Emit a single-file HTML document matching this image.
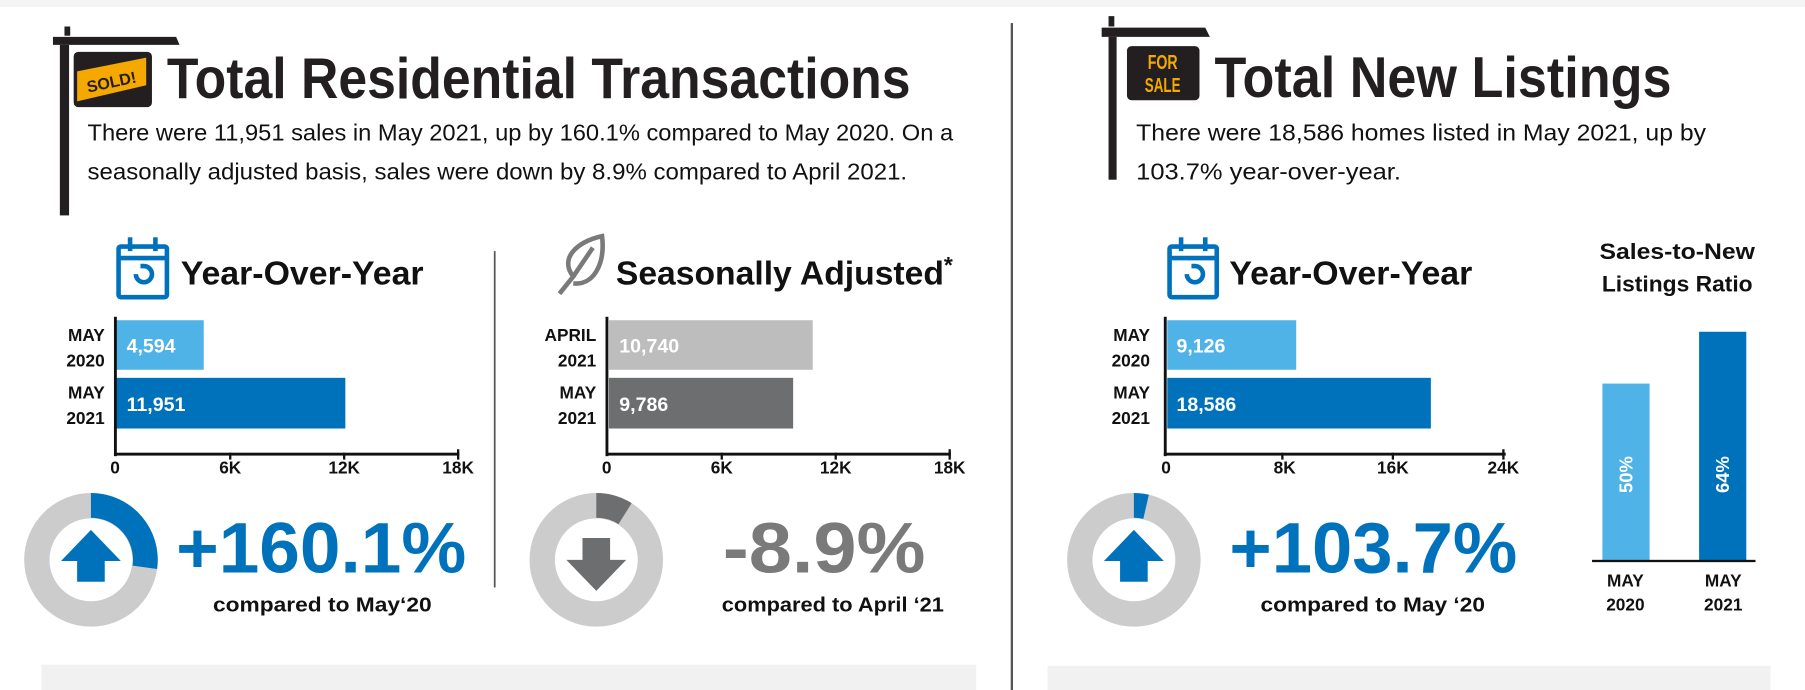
<!DOCTYPE html>
<html><head><meta charset="utf-8"><style>
html,body{margin:0;padding:0;background:#fff;}
svg{display:block;}
text{font-family:"Liberation Sans",sans-serif;}
</style></head><body>
<svg width="1805" height="690" viewBox="0 0 1568 599" preserveAspectRatio="none" xmlns="http://www.w3.org/2000/svg">
<rect x="0" y="0" width="1568" height="6" fill="#f4f4f4"/>
<!-- Left sign post -->
<rect x="56" y="23" width="5" height="8" fill="#231f20"/>
<polygon points="46,32 153,32 156,39 46,39" fill="#231f20"/>
<rect x="52" y="39" width="8" height="148" fill="#231f20"/>
<rect x="64" y="45" width="68" height="48" rx="4" fill="#231f20"/>
<polygon points="67,62 127,50 127,74 67,88" fill="#f5a800"/>
<text x="97" y="76" font-size="14" text-anchor="middle" fill="#231f20" transform="rotate(-12 97 72)" font-weight="bold">SOLD!</text>
<text x="145" y="85" font-size="50" font-weight="bold" fill="#231f20" textLength="646" lengthAdjust="spacingAndGlyphs">Total Residential Transactions</text>
<text x="76" y="122" font-size="20" fill="#111" textLength="752" lengthAdjust="spacingAndGlyphs">There were 11,951 sales in May 2021, up by 160.1% compared to May 2020. On a</text>
<text x="76" y="156" font-size="20" fill="#111" textLength="712" lengthAdjust="spacingAndGlyphs">seasonally adjusted basis, sales were down by 8.9% compared to April 2021.</text>

<!-- dividers -->
<rect x="878" y="20" width="2" height="579" fill="#555"/>
<rect x="429" y="218" width="1.5" height="292" fill="#555"/>

<!-- calendar icon 1 -->
<g fill="none" stroke="#0072bc" stroke-width="4">
<rect x="103" y="214" width="42" height="44" rx="2"/>
<line x1="103" y1="224" x2="145" y2="224"/>
<line x1="113" y1="206" x2="113" y2="218"/>
<line x1="135" y1="206" x2="135" y2="218"/>
<path d="M118 238 a7 7 0 1 0 7 -7 l-3 0"/>
</g>
<text x="157" y="247" font-size="29" font-weight="bold" fill="#111" textLength="211" lengthAdjust="spacingAndGlyphs">Year-Over-Year</text>

<!-- leaf icon -->
<g fill="none" stroke="#7a7a7a" stroke-width="4">
<path d="M486 255 L498 240 C486 225 500 210 523 205 C526 230 515 248 498 246"/>
<line x1="498" y1="240" x2="515" y2="215"/>
</g>
<text x="535" y="247" font-size="29" font-weight="bold" fill="#111" textLength="285" lengthAdjust="spacingAndGlyphs">Seasonally Adjusted</text>
<text x="820" y="237" font-size="20" font-weight="bold" fill="#111">*</text>

<!-- chart 1 -->
<rect x="101" y="278" width="76" height="43" fill="#4fb3e8"/>
<rect x="101" y="328" width="199" height="44" fill="#0072bc"/>
<rect x="99" y="275" width="2.5" height="121" fill="#111"/>
<rect x="99" y="393" width="300" height="2.5" fill="#111"/>
<g fill="#111"><rect x="199" y="393" width="2" height="6"/><rect x="298" y="393" width="2" height="6"/><rect x="397" y="390" width="2" height="9"/></g>
<g font-size="15" font-weight="bold" fill="#111" text-anchor="end">
<text x="91" y="296">MAY</text><text x="91" y="318">2020</text>
<text x="91" y="346">MAY</text><text x="91" y="368">2021</text>
</g>
<text x="110" y="306" font-size="17" font-weight="bold" fill="#fff">4,594</text>
<text x="110" y="357" font-size="17" font-weight="bold" fill="#fff">11,951</text>
<g font-size="15" font-weight="bold" fill="#111" text-anchor="middle">
<text x="100" y="411">0</text><text x="200" y="411">6K</text><text x="299" y="411">12K</text><text x="398" y="411">18K</text>
</g>

<!-- chart 2 -->
<rect x="529" y="278" width="177" height="43" fill="#bdbdbd"/>
<rect x="529" y="328" width="160" height="44" fill="#6d6e70"/>
<rect x="526" y="275" width="2.5" height="121" fill="#111"/>
<rect x="526" y="393" width="300" height="2.5" fill="#111"/>
<g fill="#111"><rect x="626" y="393" width="2" height="6"/><rect x="725" y="393" width="2" height="6"/><rect x="824" y="390" width="2" height="9"/></g>
<g font-size="15" font-weight="bold" fill="#111" text-anchor="end">
<text x="518" y="296">APRIL</text><text x="518" y="318">2021</text>
<text x="518" y="346">MAY</text><text x="518" y="368">2021</text>
</g>
<text x="538" y="306" font-size="17" font-weight="bold" fill="#fff">10,740</text>
<text x="538" y="357" font-size="17" font-weight="bold" fill="#fff">9,786</text>
<g font-size="15" font-weight="bold" fill="#111" text-anchor="middle">
<text x="527" y="411">0</text><text x="627" y="411">6K</text><text x="726" y="411">12K</text><text x="825" y="411">18K</text>
</g>

<!-- donut 1 -->
<circle cx="79" cy="486" r="47" fill="none" stroke="#cccccc" stroke-width="22"/>
<path d="M79 428 A58 58 0 0 1 136.5 494 L115.2 491 A36.5 36.5 0 0 0 79 449.5 Z" fill="#0072bc"/>
<polygon points="79,460 53,487 67,487 67,505 91,505 91,487 105,487" fill="#0072bc"/>
<text x="153" y="497" font-size="62" font-weight="bold" fill="#0072bc" textLength="252" lengthAdjust="spacingAndGlyphs">+160.1%</text>
<text x="185" y="531" font-size="18" font-weight="bold" fill="#111" textLength="190" lengthAdjust="spacingAndGlyphs">compared to May‘20</text>

<!-- donut 2 -->
<circle cx="518" cy="486" r="47" fill="none" stroke="#cccccc" stroke-width="22"/>
<path d="M518 428 A58 58 0 0 1 548.7 436.8 L537.3 455 A36.5 36.5 0 0 0 518 449.5 Z" fill="#6d6e70"/>
<polygon points="518,513 492,486 506,486 506,467 530,467 530,486 544,486" fill="#6d6e70"/>
<text x="628" y="497" font-size="62" font-weight="bold" fill="#7a7a7a" textLength="176" lengthAdjust="spacingAndGlyphs">-8.9%</text>
<text x="627" y="531" font-size="18" font-weight="bold" fill="#111" textLength="193" lengthAdjust="spacingAndGlyphs">compared to April ‘21</text>

<rect x="36" y="577" width="812" height="22" fill="#f1f1f1"/>

<!-- Right sign post -->
<rect x="963" y="14" width="5" height="9" fill="#231f20"/>
<polygon points="957,24 1047,24 1051,32 957,32" fill="#231f20"/>
<rect x="963" y="32" width="7" height="124" fill="#231f20"/>
<rect x="979" y="40" width="63" height="47" rx="4" fill="#231f20"/>
<text x="1010" y="60" font-size="18" font-weight="bold" fill="#f5a800" text-anchor="middle" textLength="26" lengthAdjust="spacingAndGlyphs">FOR</text>
<text x="1010" y="80" font-size="18" font-weight="bold" fill="#f5a800" text-anchor="middle" textLength="31" lengthAdjust="spacingAndGlyphs">SALE</text>
<text x="1055" y="84" font-size="50" font-weight="bold" fill="#231f20" textLength="397" lengthAdjust="spacingAndGlyphs">Total New Listings</text>
<text x="987" y="122" font-size="20" fill="#111" textLength="495" lengthAdjust="spacingAndGlyphs">There were 18,586 homes listed in May 2021, up by</text>
<text x="987" y="156" font-size="20" fill="#111" textLength="230" lengthAdjust="spacingAndGlyphs">103.7% year-over-year.</text>

<!-- calendar icon 2 -->
<g fill="none" stroke="#0072bc" stroke-width="4">
<rect x="1016" y="214" width="41" height="44" rx="2"/>
<line x1="1016" y1="224" x2="1057" y2="224"/>
<line x1="1026" y1="206" x2="1026" y2="218"/>
<line x1="1047" y1="206" x2="1047" y2="218"/>
<path d="M1031 238 a7 7 0 1 0 7 -7 l-3 0"/>
</g>
<text x="1068" y="247" font-size="29" font-weight="bold" fill="#111" textLength="211" lengthAdjust="spacingAndGlyphs">Year-Over-Year</text>

<!-- chart 3 -->
<rect x="1014" y="278" width="112" height="43" fill="#4fb3e8"/>
<rect x="1014" y="328" width="229" height="44" fill="#0072bc"/>
<rect x="1011" y="275" width="2.5" height="121" fill="#111"/>
<rect x="1011" y="393" width="297" height="2.5" fill="#111"/>
<g fill="#111"><rect x="1113" y="393" width="2" height="6"/><rect x="1209" y="393" width="2" height="6"/><rect x="1305" y="390" width="2" height="9"/></g>
<g font-size="15" font-weight="bold" fill="#111" text-anchor="end">
<text x="999" y="296">MAY</text><text x="999" y="318">2020</text>
<text x="999" y="346">MAY</text><text x="999" y="368">2021</text>
</g>
<text x="1022" y="306" font-size="17" font-weight="bold" fill="#fff">9,126</text>
<text x="1022" y="357" font-size="17" font-weight="bold" fill="#fff">18,586</text>
<g font-size="15" font-weight="bold" fill="#111" text-anchor="middle">
<text x="1013" y="411">0</text><text x="1116" y="411">8K</text><text x="1210" y="411">16K</text><text x="1306" y="411">24K</text>
</g>

<!-- donut 3 -->
<circle cx="985" cy="486" r="47" fill="none" stroke="#cccccc" stroke-width="22"/>
<path d="M985 428 A58 58 0 0 1 998 429.5 L993.2 450.4 A36.5 36.5 0 0 0 985 449.5 Z" fill="#0072bc"/>
<polygon points="985,460 959,487 973,487 973,505 997,505 997,487 1011,487" fill="#0072bc"/>
<text x="1068" y="497" font-size="62" font-weight="bold" fill="#0072bc" textLength="250" lengthAdjust="spacingAndGlyphs">+103.7%</text>
<text x="1095" y="531" font-size="18" font-weight="bold" fill="#111" textLength="195" lengthAdjust="spacingAndGlyphs">compared to May ‘20</text>

<!-- ratio chart -->
<text x="1457" y="225" font-size="19" font-weight="bold" fill="#111" text-anchor="middle" textLength="135" lengthAdjust="spacingAndGlyphs">Sales-to-New</text>
<text x="1457" y="253" font-size="19" font-weight="bold" fill="#111" text-anchor="middle" textLength="131" lengthAdjust="spacingAndGlyphs">Listings Ratio</text>
<rect x="1392" y="333" width="41" height="154" fill="#4fb3e8"/>
<rect x="1476" y="288" width="41" height="199" fill="#0072bc"/>
<rect x="1383" y="486" width="142" height="2" fill="#111"/>
<text transform="translate(1418 412) rotate(-90)" font-size="16" font-weight="bold" fill="#fff" text-anchor="middle">50%</text>
<text transform="translate(1502 412) rotate(-90)" font-size="16" font-weight="bold" fill="#fff" text-anchor="middle">64%</text>
<g font-size="15" font-weight="bold" fill="#111" text-anchor="middle">
<text x="1412" y="509">MAY</text><text x="1412" y="530">2020</text>
<text x="1497" y="509">MAY</text><text x="1497" y="530">2021</text>
</g>

<rect x="910" y="578" width="628" height="21" fill="#f1f1f1"/>
</svg>
</body></html>
